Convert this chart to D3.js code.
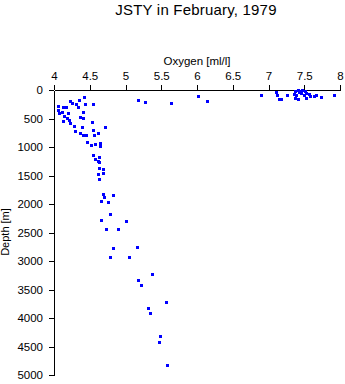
<!DOCTYPE html>
<html><head><meta charset="utf-8">
<script src="https://cdn.jsdelivr.net/npm/d3@7"></script>
<style>body{margin:0;background:#fff}svg{display:block}text{font-family:"Liberation Sans",Arial,sans-serif}</style>
</head><body>
<script>
const title = "JSTY in February, 1979";
const xLabel = "Oxygen [ml/l]";
const yLabel = "Depth [m]";
const xTicks = [4, 4.5, 5, 5.5, 6, 6.5, 7, 7.5, 8];
const yTicks = [0, 500, 1000, 1500, 2000, 2500, 3000, 3500, 4000, 4500, 5000];
const oxygen = [
 6.90,7.10,7.12,7.14,7.18,7.26,7.37,7.41,7.44,7.51,7.36,7.39,7.37,7.41,7.46,7.50,7.53,7.56,7.52,7.58,7.63,7.67,7.73,7.91,7.43,7.47,
 5.17,5.27,5.64,6.02,6.14,
 4.06,4.06,4.07,4.11,4.12,4.17,4.12,4.14,4.18,4.19,4.21,4.23,4.22,4.25,4.31,4.34,4.35,4.42,4.43,4.55,4.41,4.37,4.40,4.28,4.29,4.39,4.53,4.36,4.40,4.45,4.54,4.56,4.62,4.71,
 4.46,4.52,4.58,4.65,4.65,4.55,4.63,4.58,4.61,4.63,4.63,4.69,4.62,4.68,4.63,
 4.69,4.70,4.83,4.66,4.75,4.79,4.66,5.01,4.73,4.89,5.16,4.83,4.79,5.05,
 5.37,5.18,5.22,5.57,5.31,5.34,5.48,5.47,5.58
];
const depth = [
 90,35,80,165,150,95,20,5,20,10,75,95,135,150,60,95,45,75,135,105,105,95,115,90,35,5,
 180,205,235,110,195,
 285,350,405,385,305,305,550,460,490,405,520,580,200,230,245,305,170,130,245,245,385,480,490,635,725,655,560,755,785,795,695,795,755,655,
 915,970,950,930,975,1140,1170,1215,1250,1265,1365,1390,1475,1460,1565,
 1830,1880,1835,1950,1965,2180,2285,2305,2445,2445,2760,2775,2935,2935,
 3235,3340,3425,3720,3830,3915,4320,4415,4830
];

const W = 345, H = 384;
const m = {l:54, r:5, t:90, b:9};
const svg = d3.select("body").append("svg").attr("width", W).attr("height", H);
const x = d3.scaleLinear().domain([4, 8]).range([m.l, W - m.r]);
const y = d3.scaleLinear().domain([0, 5000]).range([m.t, H - m.b]);

svg.append("text").attr("x", 196).attr("y", 15).attr("text-anchor", "middle")
  .attr("font-size", 15).attr("letter-spacing", 0.2).text(title);
svg.append("text").attr("x", 197).attr("y", 65).attr("text-anchor", "middle")
  .attr("font-size", 11.5).text(xLabel);
svg.append("text").attr("transform", "translate(9,232) rotate(-90)").attr("text-anchor", "middle")
  .attr("font-size", 11).text(yLabel);

const gx = svg.append("g").attr("transform", `translate(0,${m.t})`)
  .call(d3.axisTop(x).tickValues(xTicks).tickFormat(d3.format("")).tickSizeInner(5).tickSizeOuter(0).tickPadding(5));
const gy = svg.append("g").attr("transform", `translate(${m.l},0)`)
  .call(d3.axisLeft(y).tickValues(yTicks).tickFormat(d3.format("")).tickSizeInner(5).tickSizeOuter(0).tickPadding(6));
[gx, gy].forEach(g => {
  g.selectAll("text").attr("font-family", '"Liberation Sans",Arial,sans-serif').attr("font-size", 11.5).attr("fill", "#000");
  g.selectAll("path,line").attr("stroke", "#000").attr("shape-rendering", "crispEdges");
});

svg.append("g").selectAll("rect").data(d3.range(oxygen.length)).join("rect")
  .attr("x", i => Math.round(x(oxygen[i])) - 1)
  .attr("y", i => Math.round(y(depth[i])) - 1)
  .attr("width", 3).attr("height", 3)
  .attr("fill", "#0000ff").attr("shape-rendering", "crispEdges");
</script>
</body></html>
